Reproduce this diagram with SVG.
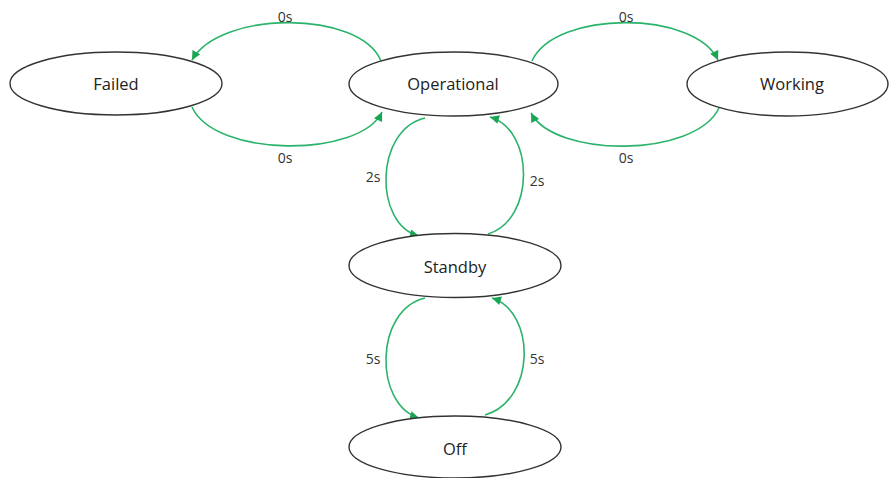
<svg xmlns="http://www.w3.org/2000/svg" width="889" height="478" viewBox="0 0 889 478">
<style>
.node ellipse{fill:#fff;stroke:#333;stroke-width:1.4}
.node text{font-family:"Open Sans","Noto Sans",sans-serif;font-size:16.5px;fill:#222;text-anchor:middle;dominant-baseline:central}
.edge{fill:none;stroke:#2bb36b;stroke-width:1.6}
.lbl{font-family:"Open Sans","Noto Sans",sans-serif;font-size:14px;fill:#333;text-anchor:middle;dominant-baseline:central}
</style>
<defs>
<marker id="ah" viewBox="0 0 10 10" refX="10" refY="5" markerWidth="10" markerHeight="9" markerUnits="userSpaceOnUse" orient="auto">
<path d="M0,0 L10,5 L0,10 z" fill="#1aa552"/>
</marker>
</defs>
<rect width="889" height="478" fill="#fff"/>
<g id="connectors">
<path class="edge" d="M381,61 C360,10 220,10 192,60" marker-end="url(#ah)"/>
<path class="edge" d="M192,107 C215,158 360,158 382,112" marker-end="url(#ah)"/>
<path class="edge" d="M532,61 C555,10 695,10 718,60" marker-end="url(#ah)"/>
<path class="edge" d="M719,108 C695,158 555,158 531,113" marker-end="url(#ah)"/>
<path class="edge" d="M425,118 C374,130 374,225 419,236" marker-end="url(#ah)"/>
<path class="edge" d="M488,234 C535,220 535,130 490,117" marker-end="url(#ah)"/>
<path class="edge" d="M425,298 C374,310 374,405 419,418" marker-end="url(#ah)"/>
<path class="edge" d="M485,415 C536,400 536,312 492,298" marker-end="url(#ah)"/>
<text class="lbl" x="285" y="16">0s</text>
<text class="lbl" x="285" y="157">0s</text>
<text class="lbl" x="626" y="16">0s</text>
<text class="lbl" x="626" y="157">0s</text>
<text class="lbl" x="373" y="176">2s</text>
<text class="lbl" x="537" y="180">2s</text>
<text class="lbl" x="373" y="358">5s</text>
<text class="lbl" x="537" y="358">5s</text>
</g>
<g id="failed" class="node"><ellipse cx="116" cy="83.5" rx="106" ry="31.5"/><text x="116" y="83">Failed</text></g>
<g id="operational" class="node"><ellipse cx="453.5" cy="84" rx="104.5" ry="32"/><text x="453" y="83">Operational</text></g>
<g id="working" class="node"><ellipse cx="787.5" cy="84" rx="100.5" ry="32"/><text x="792" y="83">Working</text></g>
<g id="standby" class="node"><ellipse cx="455" cy="265.5" rx="106" ry="32"/><text x="455" y="266">Standby</text></g>
<g id="off" class="node"><ellipse cx="455" cy="447" rx="106" ry="31"/><text x="455" y="448">Off</text></g>
</svg>
